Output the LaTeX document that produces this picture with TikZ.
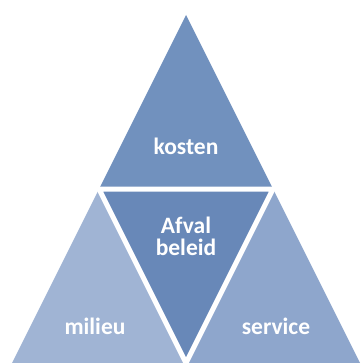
\documentclass[tikz,border=0pt]{standalone}
\usepackage{fontspec}
\setmainfont{Carlito}
\usetikzlibrary{positioning,calc}
\definecolor{topblue}{RGB}{113,145,190}
\definecolor{midblue}{RGB}{104,136,184}
\definecolor{leftblue}{RGB}{160,180,212}
\definecolor{rightblue}{RGB}{142,166,204}

\begin{document}
\begin{tikzpicture}[x=1pt,y=-1pt,
    lbl/.style={text=white,font=\bfseries\fontsize{23.5}{22}\selectfont,align=center}]
\useasboundingbox (0,0) rectangle (360,363);
\coordinate (apex) at (186,15);
\coordinate (bl) at (12,363);
\coordinate (br) at (360,363);
\coordinate (ml) at (99,189);
\coordinate (mr) at (273,189);
\coordinate (mb) at (186,363);
\fill[topblue] (apex) -- (ml) -- (mr) -- cycle;
\fill[leftblue] (ml) -- (bl) -- (mb) -- cycle;
\fill[rightblue] (mr) -- (mb) -- (br) -- cycle;
\fill[midblue] (ml) -- (mr) -- (mb) -- cycle;
\draw[white, line width=5pt] (ml) -- (mr) -- (mb) -- cycle;
\node[lbl] (kosten) at (186,146) {kosten};
\node[lbl] (beleid) at (186,236) {Afval\\beleid};
\node[lbl] (milieu) at (95,326) {milieu};
\node[lbl] (service) at (276,326) {service};
\end{tikzpicture}
\end{document}
